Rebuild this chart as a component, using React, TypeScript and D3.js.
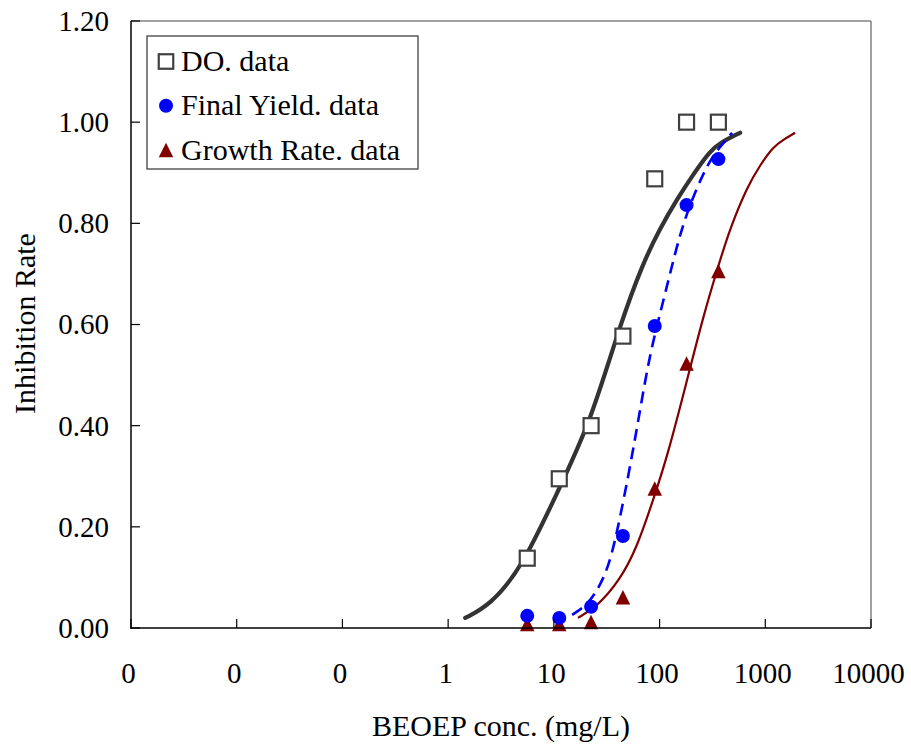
import React from "react";
import * as d3 from "d3";

// Test concentrations (mg/L) and measured inhibition rates
const concentrations = [5.6, 11.25, 22.5, 45, 90, 180, 360];
const doData = [0.138, 0.295, 0.4, 0.577, 0.888, 1.0, 1.0];
const finalYieldData = [0.024, 0.02, 0.042, 0.182, 0.597, 0.836, 0.927];
const growthRateData = [0.008, 0.008, 0.012, 0.061, 0.276, 0.523, 0.706];

// Fitted dose-response curves: concentration / inhibition pairs
const doFitConc = [1.45, 2.49, 5.0, 11.4, 22.0, 42.3, 69.8, 101, 146.5, 207, 300, 373, 578];
const doFitRate = [0.02, 0.045, 0.119, 0.279, 0.405, 0.6, 0.722, 0.79, 0.848, 0.896, 0.943, 0.959, 0.979];

const fyFitConc = [14.9, 22.0, 31.9, 39.6, 52.6, 65.4, 81.3, 108, 134, 167, 226, 300, 373, 485];
const fyFitRate = [0.026, 0.049, 0.109, 0.188, 0.318, 0.431, 0.544, 0.645, 0.725, 0.8, 0.872, 0.925, 0.951, 0.979];

const grFitConc = [16.9, 25.6, 42.3, 61.3, 86.9, 118, 182, 258, 357, 464, 673, 893, 1186, 1473, 1914];
const grFitRate = [0.02, 0.042, 0.095, 0.16, 0.253, 0.338, 0.49, 0.615, 0.714, 0.79, 0.872, 0.915, 0.951, 0.965, 0.979];

// Axis ticks
const xTicks = [0.001, 0.01, 0.1, 1, 10, 100, 1000, 10000];
const yTicks = [0, 0.2, 0.4, 0.6, 0.8, 1.0, 1.2];

const legendLabels = ["DO. data", "Final Yield. data", "Growth Rate. data"];

const W = 911;
const H = 746;
const plot = { left: 131, right: 871, top: 21, bottom: 628 };
const FONT = "'Liberation Serif', 'Times New Roman', serif";
const FS_TICK = 29;
const FS_TITLE = 30;
const FS_LEGEND = 30;

const DO_COLOR = "#333333";
const FY_COLOR = "#0000ff";
const GR_COLOR = "#800000";

const x = d3.scaleLog().domain([0.001, 10000]).range([plot.left, plot.right]);
const y = d3.scaleLinear().domain([0, 1.2]).range([plot.bottom, plot.top]);
const fmtX = d3.format(".0f");
const fmtY = d3.format(".2f");

const line = d3
  .line<[number, number]>()
  .x((d) => x(d[0]))
  .y((d) => y(d[1]))
  .curve(d3.curveBasis);

const zip = (a: number[], b: number[]): [number, number][] => a.map((v, i) => [v, b[i]]);

function Square({ cx, cy, s }: { cx: number; cy: number; s: number }) {
  return (
    <rect x={cx - s / 2} y={cy - s / 2} width={s} height={s} fill="#fff" stroke="#404040" strokeWidth={2.2} />
  );
}

function Triangle({ cx, cy, s, color }: { cx: number; cy: number; s: number; color: string }) {
  const h = s;
  const p = `${cx},${cy - h / 2} ${cx + s / 2},${cy + h / 2} ${cx - s / 2},${cy + h / 2}`;
  return <polygon points={p} fill={color} />;
}

export default function App() {
  return (
    <svg
      width={W}
      height={H}
      style={{ position: "absolute", left: 0, top: 0, background: "#fff" }}
      fontFamily={FONT}
    >
      <rect x={0} y={0} width={W} height={H} fill="#fff" />

      {/* fitted curves */}
      <path d={line(zip(doFitConc, doFitRate)) || ""} fill="none" stroke={DO_COLOR} strokeWidth={4.2} strokeLinecap="round" />
      <path d={line(zip(fyFitConc, fyFitRate)) || ""} fill="none" stroke={FY_COLOR} strokeWidth={2.6} strokeDasharray="12 7" />
      <path d={line(zip(grFitConc, grFitRate)) || ""} fill="none" stroke={GR_COLOR} strokeWidth={2.2} />

      {/* data points */}
      {concentrations.map((c, i) => (
        <Triangle key={"g" + i} cx={x(c)} cy={y(growthRateData[i])} s={14.5} color={GR_COLOR} />
      ))}
      {concentrations.map((c, i) => (
        <circle key={"f" + i} cx={x(c)} cy={y(finalYieldData[i])} r={7} fill={FY_COLOR} />
      ))}
      {concentrations.map((c, i) => (
        <Square key={"d" + i} cx={x(c)} cy={y(doData[i])} s={15} />
      ))}

      {/* plot frame */}
      <line x1={plot.left} y1={plot.top} x2={plot.right} y2={plot.top} stroke="#808080" strokeWidth={1.5} />
      <line x1={plot.right} y1={plot.top} x2={plot.right} y2={plot.bottom} stroke="#808080" strokeWidth={1.5} />
      <line x1={plot.left} y1={plot.top} x2={plot.left} y2={plot.bottom + 0.75} stroke="#000" strokeWidth={1.5} />
      <line x1={plot.left - 0.75} y1={plot.bottom} x2={plot.right} y2={plot.bottom} stroke="#000" strokeWidth={1.5} />

      {/* x axis */}
      {xTicks.map((t) => (
        <g key={"xt" + t}>
          <line x1={x(t)} x2={x(t)} y1={plot.bottom} y2={plot.bottom - 9} stroke="#000" strokeWidth={1.2} />
          <text x={x(t) - 2.5} y={683} textAnchor="middle" fontSize={FS_TICK} fill="#000">
            {fmtX(t)}
          </text>
        </g>
      ))}

      {/* y axis */}
      {yTicks.map((t) => (
        <g key={"yt" + t}>
          <line x1={plot.left} x2={plot.left + 9} y1={y(t)} y2={y(t)} stroke="#000" strokeWidth={1.2} />
          <text x={109} y={y(t)} dy="0.34em" textAnchor="end" fontSize={FS_TICK} fill="#000">
            {fmtY(t)}
          </text>
        </g>
      ))}

      {/* axis titles */}
      <text x={(plot.left + plot.right) / 2} y={736} textAnchor="middle" fontSize={FS_TITLE} fill="#000">
        BEOEP conc. (mg/L)
      </text>
      <text
        transform={`translate(35, ${(plot.top + plot.bottom) / 2 - 1}) rotate(-90)`}
        textAnchor="middle"
        fontSize={FS_TITLE}
        fill="#000"
      >
        Inhibition Rate
      </text>

      {/* legend */}
      <rect x={147} y={36} width={271} height={133} fill="#fff" stroke="#333" strokeWidth={1.2} />
      {legendLabels.map((label, i) => {
        const cy = 61.5 + i * 44.3;
        return (
          <g key={label}>
            {i === 0 && <Square cx={166} cy={cy} s={14.5} />}
            {i === 1 && <circle cx={166} cy={cy} r={7} fill={FY_COLOR} />}
            {i === 2 && <Triangle cx={166} cy={cy} s={14.5} color={GR_COLOR} />}
            <text x={181} y={cy + 9.5} fontSize={FS_LEGEND} fill="#000">
              {label}
            </text>
          </g>
        );
      })}
    </svg>
  );
}
